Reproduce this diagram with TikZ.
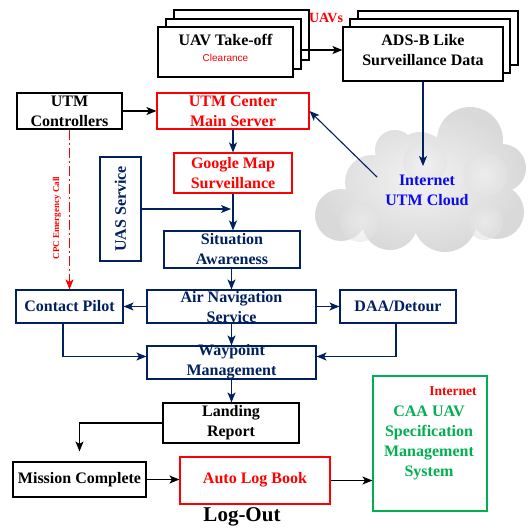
\documentclass[tikz,border=0pt]{standalone}
\usepackage{fontspec}
\setmainfont{Liberation Serif}
\newfontfamily\sansfam{Liberation Sans}
\usetikzlibrary{arrows.meta,calc}
\definecolor{navy}{RGB}{0,32,96}
\definecolor{rd}{RGB}{255,0,0}
\definecolor{grn}{RGB}{0,176,80}
\definecolor{cloudblue}{RGB}{10,10,240}
\begin{document}
\begin{tikzpicture}[x=1pt,y=-1pt,
  box/.style 2 args={draw, line width=1.1pt, inner sep=0pt, fill=white,
    minimum width=#1, minimum height=#2},
  lbl/.style={font=\fontsize{16}{20}\selectfont\bfseries, align=center, inner sep=0pt},
  arr/.style={line width=1.1pt, -{Stealth[length=10pt,width=8pt,inset=2.5pt]}}]
\useasboundingbox (0,0) rectangle (528,528);

% ---- cloud ----
\shade[inner color=gray!10, outer color=gray!30]
  (470,140) circle (33) (502,168) circle (24) (420,160) circle (28)
  (372,182) circle (27) (341,215) circle (26) (390,222) circle (28)
  (445,220) circle (32) (497,212) circle (27) (430,190) circle (32)
  (470,195) circle (30) (395,150) circle (20);
\shade[inner color=gray!9, outer color=gray!22, opacity=0.6] (485,175) circle (22);
\shade[inner color=gray!9, outer color=gray!22, opacity=0.6] (425,162) circle (22);
\shade[inner color=gray!10, outer color=gray!24, opacity=0.6] (485,222) circle (18);
\shade[inner color=gray!10, outer color=gray!24, opacity=0.5] (360,222) circle (20);
\node[lbl, text=cloudblue] (cloudt) at (427,190.5) {Internet\\UTM Cloud};
\coordinate (cloudin) at (423,166);
\coordinate (cloudout) at (377,177);

% ---- top row: stacked boxes ----
\node[box={135}{50}] (take3) at (241.5,35) {};
\node[box={135}{50}] (take2) at (233.5,44) {};
\node[box={135}{50}] (take1) at (225.5,52) {};
\node[lbl] (take1t) at (225.5,40) {UAV Take-off};
\node[font=\sansfam\fontsize{10}{12}\selectfont, text=rd, inner sep=0pt] (take1c) at (225.5,58) {Clearance};
\node[font=\fontsize{14}{16}\selectfont\bfseries, text=rd, inner sep=0pt] (uavs) at (326,18) {UAVs};

\node[box={160}{54}] (adsb3) at (438,38) {};
\node[box={160}{54}] (adsb2) at (430,46) {};
\node[box={160}{54}] (adsb) at (423,54) {};
\node[lbl] (adsbt) at (423,50) {ADS-B Like\\Surveillance Data};

% ---- UTM row ----
\node[box={105}{36}] (ctrl) at (69.5,111) {};
\node[lbl] (ctrlt) at (69.5,111) {UTM\\Controllers};
\node[box={152}{36}, draw=rd] (utmc) at (233,111) {};
\node[lbl, text=rd] (utmct) at (233,111) {UTM Center\\Main Server};
\node[box={118}{40}, draw=rd] (gmap) at (233,173) {};
\node[lbl, text=rd] (gmapt) at (233,173.5) {Google Map\\Surveillance};

\node[box={41}{104}, draw=navy] (uas) at (120.5,209) {};
\node[lbl, text=navy, rotate=90] (uast) at (120.5,209) {UAS Service};
\node[font=\fontsize{9}{10}\selectfont\bfseries, text=rd, rotate=90, inner sep=0pt] (cpct) at (57,218) {CPC Emergency Call};

\node[box={136}{37}, draw=navy] (sit) at (232,249.5) {};
\node[lbl, text=navy] (sitt) at (232,249.5) {Situation\\Awareness};

% ---- navigation row ----
\node[box={107}{33}, draw=navy] (pilot) at (69.5,306.5) {};
\node[lbl, text=navy] (pilott) at (69.5,306.5) {Contact Pilot};
\node[box={169}{33}, draw=navy] (air) at (231.5,306.5) {};
\node[lbl, text=navy] (airt) at (231.5,307) {Air Navigation\\Service};
\node[box={116}{33}, draw=navy] (daa) at (398,306.5) {};
\node[lbl, text=navy] (daat) at (398,306.5) {DAA/Detour};
\node[box={169}{33}, draw=navy] (wp) at (231.5,362.5) {};
\node[lbl, text=navy] (wpt) at (231.5,362) {Waypoint\\Management};

% ---- landing and log-out ----
\node[box={136}{40}] (land) at (231,423) {};
\node[lbl] (landt) at (231,423) {Landing\\Report};
\node[box={133}{35}] (mission) at (79.5,479.5) {};
\node[lbl] (missiont) at (79.5,479.5) {Mission Complete};
\node[box={150}{47}, draw=rd] (autolog) at (255,480.5) {};
\node[lbl, text=rd] (autologt) at (255,480) {Auto Log Book};
\node[box={114}{135}, draw=grn] (caa) at (430,443.5) {};
\node[font=\fontsize{13.5}{16}\selectfont\bfseries, text=rd, inner sep=0pt] (caanet) at (453,391) {Internet};
\node[lbl, text=grn] (caat) at (429,443) {CAA UAV\\Specification\\Management\\System};
\node[font=\fontsize{21}{24}\selectfont\bfseries, inner sep=0pt] (logout) at (242,517) {Log-Out};

% ---- connectors ----
\draw[arr] (take2.east |- 0,50) -- (adsb.west |- 0,50);
\draw[arr, navy] (adsb.south) -- (cloudin);
\draw[arr, navy] (cloudout) -- (utmc.east);
\draw[arr] (ctrl.east) -- (utmc.west);
\draw[arr, navy] (utmc.south) -- (gmap.north);
\draw[arr, navy] (gmap.south) -- (gmap.south |- sit.north);
\draw[arr, navy] (uas.east) -- ($(gmap.south |- uas.east)+(-2,0)$);
\draw[arr, navy] (sit.south -| air.north) -- (air.north);
\draw[arr, navy] (air.west) -- (pilot.east);
\draw[arr, navy] (air.east) -- (daa.west);
\draw[arr, navy] (air.south) -- (wp.north);
\draw[arr, navy] ($(pilot.south)+(-6.5,0)$) |- ($(wp.west)+(0,-6)$);
\draw[arr, navy] ($(daa.south)+(-2,0)$) |- ($(wp.east)+(0,-6)$);
\draw[arr, navy] (wp.south) -- (wp.south |- land.north);
\draw[arr] (land.west) -| ($(mission.north)+(0,-10)$);
\draw[arr] (mission.east) -- (mission.east -| autolog.west);
\draw[arr] (autolog.east) -- (autolog.east -| caa.west);
\draw[arr, rd, line width=1.3pt, dash pattern=on 10pt off 3pt on 2pt off 3pt] (ctrl.south) -- (pilot.north);
\end{tikzpicture}
\end{document}
